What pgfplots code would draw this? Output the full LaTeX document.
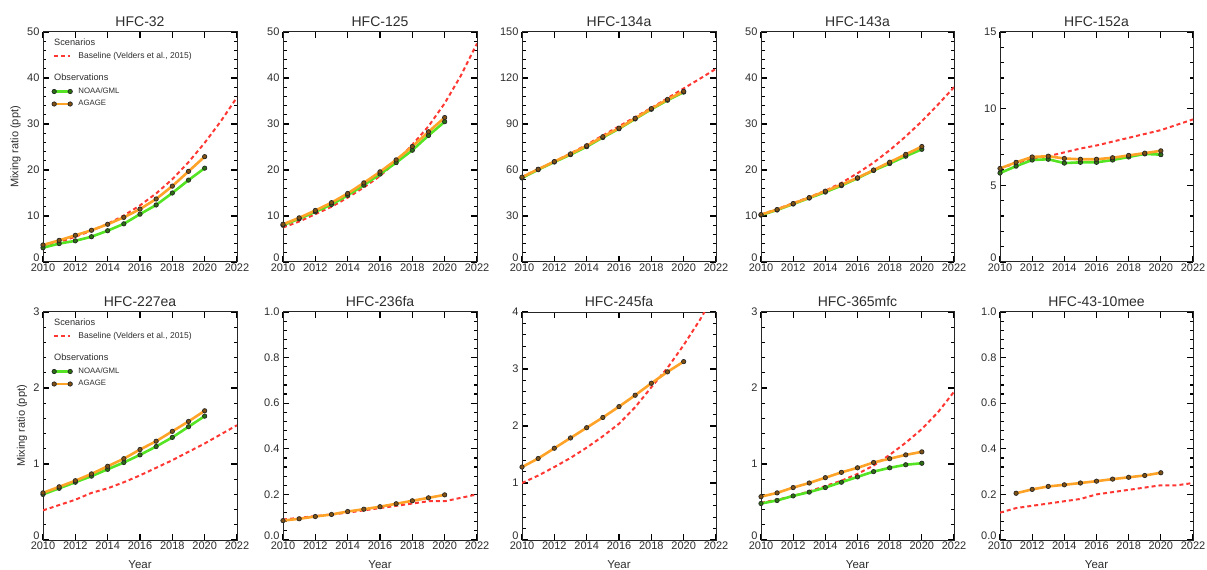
\documentclass[border=0pt]{standalone}
\usepackage{fontspec}
\setmainfont{Liberation Sans}
\usepackage{pgfplots}
\pgfplotsset{compat=1.18}

\definecolor{obsgreen}{RGB}{85,228,35}
\definecolor{obsorange}{RGB}{255,163,40}
\definecolor{basered}{RGB}{255,55,50}
\definecolor{ink}{RGB}{45,45,45}

% first y tick label (0) sits raised, as in the original
\newcommand{\ylab}{\ifdim\tick pt<0.0001pt\raisebox{4.5pt}[\height][\depth]{\pgfmathprintnumber{\tick}}\else\pgfmathprintnumber{\tick}\fi}

\pgfplotsset{
  legend image code/.code={\draw[mark repeat=1,mark phase=1,#1] plot coordinates {(0pt,0pt) (16pt,0pt)};},
  hfc/.style={
    scale only axis, width=194pt, height=230pt, anchor=south west,
    xmin=2010, xmax=2022, ymin=0,
    xtick={2010,2012,...,2022}, minor x tick num=1, minor y tick num=4,
    tick align=inside, major tick length=6pt, minor tick length=3.5pt,
    xtick style={black, line width=1.2pt},
    ytick style={black, line width=1.2pt},
    axis line style={black!85, line width=1pt},
    tick label style={font=\fontsize{11}{13}\selectfont, text=ink},
    xticklabel style={yshift=2pt, /pgf/number format/1000 sep={}},
    yticklabel={\ylab},
    every axis title/.style={at={(0.5,1)}, anchor=base, yshift=5.5pt,
      font=\fontsize{14}{16}\selectfont, text=ink},
    every axis y label/.style={at={(axis description cs:-0.142,0.5)}, rotate=90,
      anchor=center, font=\fontsize{11}{13}\selectfont, text=ink},
    every axis x label/.style={at={(axis description cs:0.5,0)}, anchor=base,
      yshift=-28pt, font=\fontsize{11.5}{13}\selectfont, text=ink},
    legend cell align=left,
    legend style={at={(axis description cs:0,1)}, anchor=north west,
      xshift=9pt, yshift=-5.75pt, draw=none, fill=none,
      inner sep=0pt, outer sep=0pt, row sep=0pt, column sep=6pt,
      font=\fontsize{8.5}{10}\selectfont, text=ink,
      nodes={inner sep=0pt, text height=8pt, text depth=4.5pt}},
    /pgf/number format/assume math mode=true,
  },
  base/.style={basered, line width=2pt, dash pattern=on 4pt off 3pt, mark=none},
  obsg/.style={obsgreen, line width=2.6pt, mark=*, mark size=2.2pt,
    mark options={solid, draw=black!85, fill=obsgreen!50!black, line width=0.7pt}},
  obso/.style={obsorange, line width=2.6pt, mark=*, mark size=2.2pt,
    mark options={solid, draw=black!85, fill=obsorange!50!black, line width=0.7pt}},
}

\newcommand{\hfclegend}{%
  \addlegendimage{legend image code/.code={\node[overlay, anchor=west, inner sep=0pt,
    font=\fontsize{9.2}{11}\selectfont, text=ink] at (0pt,0pt) {Scenarios};}}
  \addlegendentry{\mbox{}}
  \addlegendimage{base}
  \addlegendentry{Baseline (Velders et al., 2015)}
  \addlegendimage{empty legend}
  \addlegendentry[text height=5pt, text depth=5pt]{\mbox{}}
  \addlegendimage{legend image code/.code={\node[overlay, anchor=west, inner sep=0pt,
    font=\fontsize{9.2}{11}\selectfont, text=ink] at (0pt,0pt) {Observations};}}
  \addlegendentry{\mbox{}}
  \addlegendimage{obsg}
  \addlegendentry[font=\fontsize{7.8}{9}\selectfont]{NOAA/GML}
  \addlegendimage{obso}
  \addlegendentry[font=\fontsize{7.8}{9}\selectfont]{AGAGE}
}

\begin{document}
\begin{tikzpicture}
\useasboundingbox (0,0) rectangle (1207pt,570pt);

% ---- top row ----
\begin{axis}[hfc, at={(43pt,308pt)}, title={HFC-32}, ymax=50, ytick={0,10,...,50},
  ylabel={Mixing ratio (ppt)}]
  \addplot[base, forget plot] coordinates {(2010,3.3) (2011,4.3) (2012,5.5) (2013,6.8) (2014,8.3) (2015,10.1) (2016,12.3) (2017,14.9) (2018,18.0) (2019,21.7) (2020,25.9) (2021,30.6) (2022,35.8)};
  \addplot[obsg, forget plot] coordinates {(2010,3.1) (2011,4.0) (2012,4.6) (2013,5.5) (2014,6.8) (2015,8.3) (2016,10.4) (2017,12.4) (2018,15.0) (2019,17.8) (2020,20.4)};
  \addplot[obso, forget plot] coordinates {(2010,3.7) (2011,4.7) (2012,5.8) (2013,6.9) (2014,8.2) (2015,9.7) (2016,11.5) (2017,13.7) (2018,16.5) (2019,19.7) (2020,22.9)};
  \hfclegend
\end{axis}

\begin{axis}[hfc, at={(283pt,308pt)}, title={HFC-125}, ymax=50, ytick={0,10,...,50}]
  \addplot[base] coordinates {(2010,7.5) (2011,8.8) (2012,10.4) (2013,12.0) (2014,14.0) (2015,16.2) (2016,18.7) (2017,21.8) (2018,25.5) (2019,29.5) (2020,34.5) (2021,40.5) (2022,47.5)};
  \addplot[obsg] coordinates {(2010,8.0) (2011,9.4) (2012,10.9) (2013,12.5) (2014,14.5) (2015,16.7) (2016,19.1) (2017,21.6) (2018,24.3) (2019,27.5) (2020,30.5)};
  \addplot[obso] coordinates {(2010,8.2) (2011,9.6) (2012,11.2) (2013,12.9) (2014,14.9) (2015,17.2) (2016,19.6) (2017,22.2) (2018,25.1) (2019,28.3) (2020,31.4)};
\end{axis}

\begin{axis}[hfc, at={(522pt,308pt)}, title={HFC-134a}, ymax=150, ytick={0,30,...,150}]
  \addplot[base] coordinates {(2010,55.5) (2011,60.5) (2012,65.5) (2013,70.8) (2014,76.5) (2015,82.5) (2016,88.5) (2017,94.5) (2018,100.5) (2019,106.8) (2020,113.2) (2021,119.5) (2022,126)};
  \addplot[obsg] coordinates {(2010,54.8) (2011,60.2) (2012,65.2) (2013,70.0) (2014,75.2) (2015,81.2) (2016,86.9) (2017,93.3) (2018,99.6) (2019,105.5) (2020,110.8)};
  \addplot[obso] coordinates {(2010,55.3) (2011,60.5) (2012,65.5) (2013,70.5) (2014,75.8) (2015,81.7) (2016,87.3) (2017,93.7) (2018,100.0) (2019,106.0) (2020,111.3)};
\end{axis}

\begin{axis}[hfc, at={(761pt,308pt)}, width=193pt, title={HFC-143a}, ymax=50, ytick={0,10,...,50}]
  \addplot[base] coordinates {(2010,10.3) (2011,11.5) (2012,12.8) (2013,14.1) (2014,15.5) (2015,17.2) (2016,19.3) (2017,21.6) (2018,24.3) (2019,27.3) (2020,30.6) (2021,34.2) (2022,38.0)};
  \addplot[obsg] coordinates {(2010,10.2) (2011,11.3) (2012,12.6) (2013,13.9) (2014,15.2) (2015,16.6) (2016,18.2) (2017,19.9) (2018,21.4) (2019,23.0) (2020,24.5)};
  \addplot[obso] coordinates {(2010,10.3) (2011,11.4) (2012,12.7) (2013,14.0) (2014,15.4) (2015,16.8) (2016,18.3) (2017,20.0) (2018,21.7) (2019,23.4) (2020,25.1)};
\end{axis}

\begin{axis}[hfc, at={(1000pt,308pt)}, width=193pt, title={HFC-152a}, ymax=15, ytick={0,5,...,15}]
  \addplot[base] coordinates {(2010,6.1) (2011,6.45) (2012,6.75) (2013,6.9) (2014,7.15) (2015,7.4) (2016,7.6) (2017,7.85) (2018,8.1) (2019,8.35) (2020,8.6) (2021,8.95) (2022,9.3)};
  \addplot[obsg] coordinates {(2010,5.8) (2011,6.25) (2012,6.65) (2013,6.7) (2014,6.45) (2015,6.5) (2016,6.5) (2017,6.65) (2018,6.85) (2019,7.05) (2020,7.0)};
  \addplot[obso] coordinates {(2010,6.1) (2011,6.5) (2012,6.85) (2013,6.9) (2014,6.75) (2015,6.7) (2016,6.7) (2017,6.8) (2018,6.95) (2019,7.1) (2020,7.25)};
\end{axis}

% ---- bottom row ----
\begin{axis}[hfc, at={(43pt,30pt)}, height=228pt, title={HFC-227ea}, ymax=3, ytick={0,1,2,3},
  ylabel={Mixing ratio (ppt)}, xlabel={Year},
  every axis y label/.append style={at={(axis description cs:-0.108,0.5)}}]
  \addplot[base, forget plot] coordinates {(2010,0.39) (2011,0.46) (2012,0.53) (2013,0.62) (2014,0.68) (2015,0.76) (2016,0.85) (2017,0.95) (2018,1.05) (2019,1.16) (2020,1.27) (2021,1.39) (2022,1.51)};
  \addplot[obsg, forget plot] coordinates {(2010,0.60) (2011,0.68) (2012,0.76) (2013,0.84) (2014,0.93) (2015,1.02) (2016,1.12) (2017,1.23) (2018,1.35) (2019,1.49) (2020,1.63)};
  \addplot[obso, forget plot] coordinates {(2010,0.62) (2011,0.70) (2012,0.78) (2013,0.87) (2014,0.97) (2015,1.07) (2016,1.19) (2017,1.30) (2018,1.43) (2019,1.56) (2020,1.70)};
  \hfclegend
\end{axis}

\begin{axis}[hfc, at={(283pt,30pt)}, height=228pt, title={HFC-236fa}, ymax=1, ytick={0,0.2,...,1.0},
  xlabel={Year}, yticklabel style={/pgf/number format/fixed, /pgf/number format/precision=1, /pgf/number format/fixed zerofill}]
  \addplot[base] coordinates {(2010,0.09) (2011,0.097) (2012,0.105) (2013,0.112) (2014,0.12) (2015,0.13) (2016,0.14) (2017,0.15) (2018,0.16) (2019,0.17) (2020,0.17) (2021,0.185) (2022,0.20)};
  \addplot[obso] coordinates {(2010,0.085) (2011,0.093) (2012,0.103) (2013,0.112) (2014,0.125) (2015,0.135) (2016,0.146) (2017,0.159) (2018,0.172) (2019,0.185) (2020,0.198)};
\end{axis}

\begin{axis}[hfc, at={(522pt,30pt)}, height=228pt, title={HFC-245fa}, ymax=4, ytick={0,1,2,3,4},
  xlabel={Year}]
  \addplot[base] coordinates {(2010,1.0) (2011,1.13) (2012,1.28) (2013,1.44) (2014,1.62) (2015,1.82) (2016,2.04) (2017,2.33) (2018,2.68) (2019,3.02) (2020,3.42) (2021,3.86) (2022,4.35)};
  \addplot[obso] coordinates {(2010,1.28) (2011,1.43) (2012,1.61) (2013,1.79) (2014,1.97) (2015,2.15) (2016,2.34) (2017,2.54) (2018,2.75) (2019,2.95) (2020,3.13)};
\end{axis}

\begin{axis}[hfc, at={(761pt,30pt)}, width=193pt, height=228pt, title={HFC-365mfc}, ymax=3, ytick={0,1,2,3},
  xlabel={Year}]
  \addplot[base] coordinates {(2010,0.49) (2011,0.53) (2012,0.58) (2013,0.64) (2014,0.71) (2015,0.78) (2016,0.87) (2017,0.98) (2018,1.12) (2019,1.28) (2020,1.46) (2021,1.68) (2022,1.95)};
  \addplot[obsg] coordinates {(2010,0.48) (2011,0.52) (2012,0.58) (2013,0.63) (2014,0.69) (2015,0.76) (2016,0.83) (2017,0.90) (2018,0.95) (2019,0.99) (2020,1.01)};
  \addplot[obso] coordinates {(2010,0.57) (2011,0.62) (2012,0.69) (2013,0.75) (2014,0.82) (2015,0.89) (2016,0.95) (2017,1.02) (2018,1.07) (2019,1.12) (2020,1.16)};
\end{axis}

\begin{axis}[hfc, at={(1000pt,30pt)}, width=193pt, height=228pt, title={HFC-43-10mee}, ymax=1, ytick={0,0.2,...,1.0},
  xlabel={Year}, yticklabel style={/pgf/number format/fixed, /pgf/number format/precision=1, /pgf/number format/fixed zerofill}]
  \addplot[base] coordinates {(2010,0.12) (2011,0.14) (2012,0.15) (2013,0.16) (2014,0.17) (2015,0.18) (2016,0.20) (2017,0.21) (2018,0.22) (2019,0.23) (2020,0.24) (2021,0.24) (2022,0.25)};
  \addplot[obso] coordinates {(2011,0.205) (2012,0.222) (2013,0.235) (2014,0.242) (2015,0.25) (2016,0.258) (2017,0.267) (2018,0.275) (2019,0.283) (2020,0.295)};
\end{axis}
\end{tikzpicture}
\end{document}
